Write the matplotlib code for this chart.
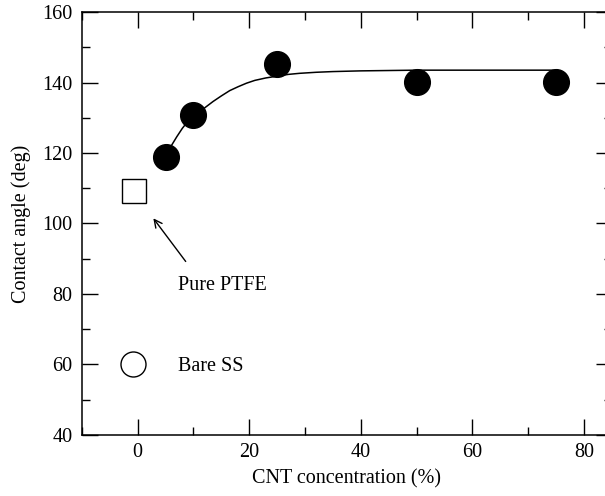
import numpy as np
import matplotlib
matplotlib.use("Agg")
import matplotlib.pyplot as plt
from matplotlib.ticker import MultipleLocator

# ================================================================================
# data
cnt_conc=[5,10,25,50,75]
contact_angle=[119,130.8,145.2,140.2,140.2]

pure_ptfe_x=[-0.7]
pure_ptfe_y=[109.3]

bare_ss_x=[-0.8]
bare_ss_y=[60]

fit_x=[5,6,7,8,9,10,11,12,13.5,15,16.5,18,19.5,21,23,25,27,29,32,35,40,45,50,60,75]
fit_y=[119,122,124.6,127,129,130.6,131.7,132.8,134.6,136.2,137.7,138.8,139.8,140.6,141.3,141.8,142.3,142.6,142.9,143.1,143.3,143.4,143.5,143.5,143.5]

# ================================================================================
plt.rcParams['font.family']=['Liberation Serif','DejaVu Serif']
plt.rcParams['font.size']=14.5

fig=plt.figure(figsize=(6.05,4.96),dpi=100)
ax=fig.add_axes([0.1355,0.123,1.011-0.1355,0.9758-0.123])

ax.plot(fit_x,fit_y,color="black",lw=1.1,zorder=2)
ax.plot(cnt_conc,contact_angle,"o",color="black",ms=18.5,zorder=3)
ax.plot(pure_ptfe_x,pure_ptfe_y,"s",mfc="white",mec="black",mew=1.0,ms=17,zorder=3)
ax.plot(bare_ss_x,bare_ss_y,"o",mfc="white",mec="black",mew=1.0,ms=18,zorder=3)

ax.annotate("",xy=(2.5,102.1),xytext=(8.9,88.6),
            arrowprops=dict(arrowstyle="->",color="black",lw=1.0,mutation_scale=14))
ax.text(7.2,82.5,"Pure PTFE",va="center",ha="left")
ax.text(7.2,59.4,"Bare SS",va="center",ha="left")

ax.set_xlim(-10,85)
ax.set_ylim(40,160)
ax.xaxis.set_major_locator(MultipleLocator(20))
ax.xaxis.set_minor_locator(MultipleLocator(10))
ax.yaxis.set_major_locator(MultipleLocator(20))
ax.yaxis.set_minor_locator(MultipleLocator(10))
ax.tick_params(which="both",direction="in",top=True,right=True,width=1.0,color="black")
ax.tick_params(which="major",length=11.5)
ax.tick_params(which="minor",length=5.8)
ax.tick_params(axis="y",pad=7)
ax.tick_params(axis="x",pad=6)
for sp in ax.spines.values():
  sp.set_linewidth(1.1)

ax.set_xlabel("CNT concentration (%)",labelpad=5)
ax.set_ylabel("Contact angle (deg)",labelpad=8)

fig.savefig("out.png",dpi=100)
